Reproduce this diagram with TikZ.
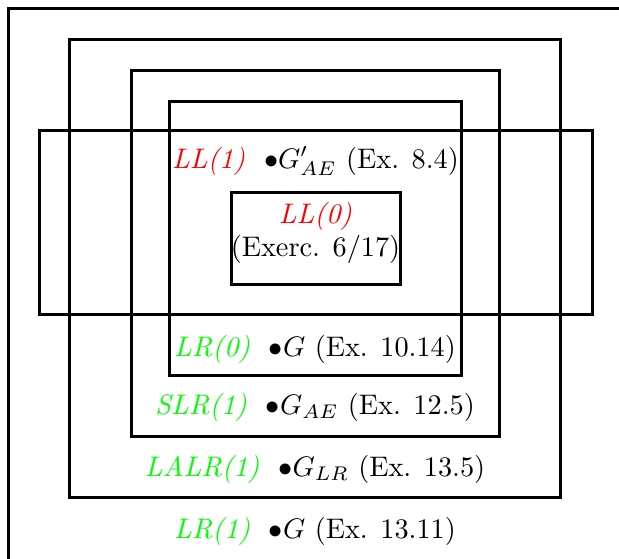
\documentclass[tikz,border=0pt]{standalone}
\usepackage{xcolor}
\definecolor{lred}{RGB}{255,0,0}
\definecolor{lgreen}{RGB}{0,255,0}
\begin{document}
\begin{tikzpicture}[x=0.3534pt,y=-0.3534pt,
  box/.style={draw=black,line width=1pt},
  lbl/.style={anchor=base,inner sep=0pt},
  rd/.style={text=lred},
  gr/.style={text=lgreen}]
\useasboundingbox (0,0) rectangle (619,558);
\clip (0,0) rectangle (619,558);
% outer rectangle (LR(1))
\draw[box] (8.5,8.5) rectangle (660,600);
% LALR(1)
\draw[box] (69.5,39.5) rectangle (560.5,497.5);
% SLR(1)
\draw[box] (131.5,70.5) rectangle (499.5,436.5);
% LR(0)
\draw[box] (169.5,101.5) rectangle (461.5,375.5);
% LL(1)
\draw[box] (39.5,130.5) rectangle (592.5,314.5);
% LL(0)
\draw[box] (231.5,192.5) rectangle (400.5,284.5);
% labels
\node[lbl] (ll1) at (315.5,168) {\textcolor{lred}{\textit{LL(1)}}\ \ $\bullet G'_{AE}$ (Ex. 8.4)};
\node[lbl] (ll0) at (315.5,223) {\textcolor{lred}{\textit{LL(0)}}};
\node[lbl] (ll0b) at (315.5,256) {(Exerc. 6/17)};
\node[lbl] (lr0) at (315,356) {\textcolor{lgreen}{\textit{LR(0)}}\ \ $\bullet G$ (Ex. 10.14)};
\node[lbl] (slr) at (315,414) {\textcolor{lgreen}{\textit{SLR(1)}}\ \ $\bullet G_{AE}$ (Ex. 12.5)};
\node[lbl] (lalr) at (315,476) {\textcolor{lgreen}{\textit{LALR(1)}}\ \ $\bullet G_{LR}$ (Ex. 13.5)};
\node[lbl] (lr1) at (315,538) {\textcolor{lgreen}{\textit{LR(1)}}\ \ $\bullet G$ (Ex. 13.11)};
\end{tikzpicture}
\end{document}
